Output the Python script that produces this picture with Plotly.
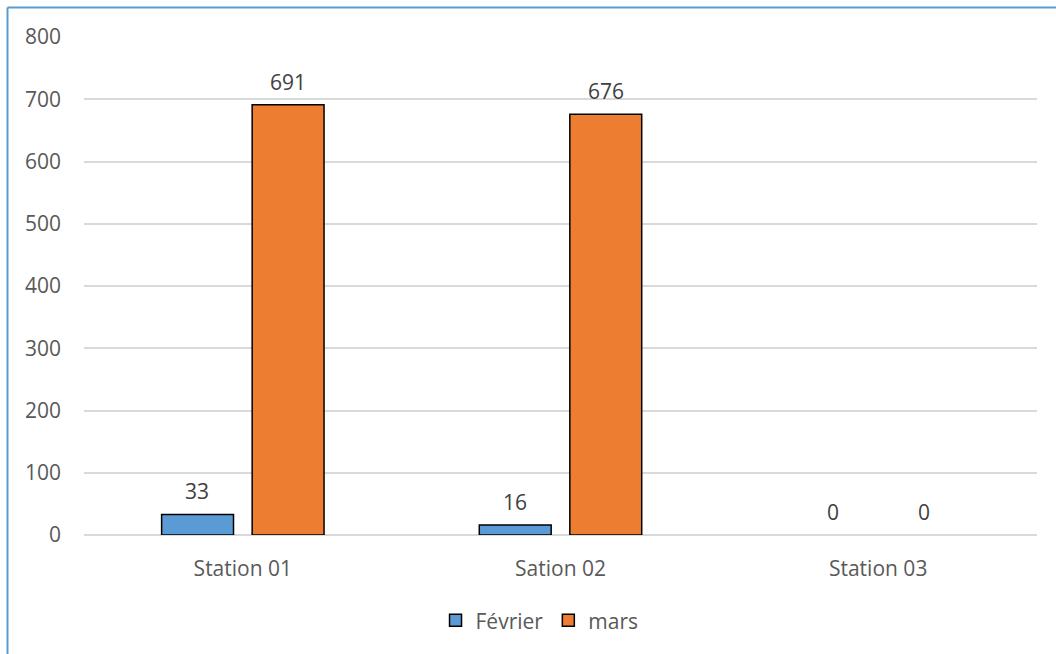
import plotly.graph_objects as go

stations = ["Station 01", "Sation 02", "Station 03"]
fevrier = [33, 16, 0]
mars = [691, 676, 0]
y_ticks = [0, 100, 200, 300, 400, 500, 600, 700, 800]

W, H = 1056, 654
ML, MR, MT, MB = 84, 19, 37, 119
pw, ph = W - ML - MR, H - MT - MB

font_main = "Open Sans, Noto Sans, sans-serif"
FS = 21


def outline_widths(values):
    # no outline on empty bars
    return [1.5 if v > 0 else 0 for v in values]


fig = go.Figure()
fig.add_trace(go.Bar(
    name="Février", x=stations, y=fevrier,
    marker=dict(color="#5B9BD5", line=dict(color="#000000", width=outline_widths(fevrier))),
))
fig.add_trace(go.Bar(
    name="mars", x=stations, y=mars,
    marker=dict(color="#ED7D31", line=dict(color="#000000", width=outline_widths(mars))),
))

# value labels above each bar
cat_w = pw / len(stations)
offset = cat_w * 0.143
for series, dx in ((fevrier, -offset), (mars, offset)):
    for st, v in zip(stations, series):
        fig.add_annotation(x=st, y=v, xref="x", yref="y", text=str(v), showarrow=False,
                           xshift=dx, yshift=7, yanchor="bottom",
                           font=dict(family=font_main, size=FS, color="#404040"))

# blue frame along the top and left edges
bx = (7.5 - ML) / pw
by = (H - MB - 7.5) / ph
fig.add_shape(type="line", xref="paper", yref="paper", x0=bx, x1=(W - ML + 5) / pw,
              y0=by, y1=by, line=dict(color="#5B9BD5", width=2))
fig.add_shape(type="line", xref="paper", yref="paper", x0=bx, x1=bx,
              y0=by, y1=-(MB + 5) / ph, line=dict(color="#5B9BD5", width=2))

fig.update_layout(
    width=W, height=H,
    margin=dict(l=ML, r=MR, t=MT, b=MB),
    paper_bgcolor="white", plot_bgcolor="white",
    barmode="group", bargap=0.43, bargroupgap=0.206,
    font=dict(family=font_main, size=FS, color="#595959"),
    showlegend=True,
    legend=dict(orientation="h", x=0.478, xanchor="center", y=-0.172, yanchor="middle",
                font=dict(size=FS, color="#595959"), traceorder="normal",
                itemwidth=30),
    xaxis=dict(showgrid=False, showline=False, ticks="", ticklabelstandoff=19,
               tickfont=dict(size=FS, color="#595959")),
    yaxis=dict(range=[0, 800], tickvals=y_ticks, showgrid=True, gridcolor="#d9d9d9",
               gridwidth=1.5, zeroline=True, zerolinecolor="#d9d9d9", zerolinewidth=2,
               showline=False, ticks="", ticklabelstandoff=22,
               tickfont=dict(size=FS, color="#595959")),
)

fig.write_html("out.html")
